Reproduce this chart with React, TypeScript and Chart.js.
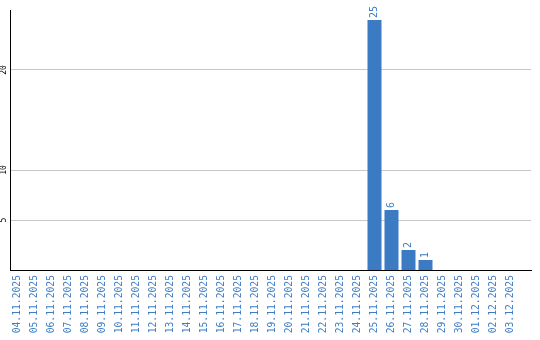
import React, { useEffect, useRef } from 'react';
import { Chart, registerables } from 'chart.js';

Chart.register(...registerables);

const dateLabels = [
  '04.11.2025', '05.11.2025', '06.11.2025', '07.11.2025', '08.11.2025', '09.11.2025',
  '10.11.2025', '11.11.2025', '12.11.2025', '13.11.2025', '14.11.2025', '15.11.2025',
  '16.11.2025', '17.11.2025', '18.11.2025', '19.11.2025', '20.11.2025', '21.11.2025',
  '22.11.2025', '23.11.2025', '24.11.2025', '25.11.2025', '26.11.2025', '27.11.2025',
  '28.11.2025', '29.11.2025', '30.11.2025', '01.12.2025', '02.12.2025', '03.12.2025',
];

const counts = [
  0, 0, 0, 0, 0, 0, 0, 0, 0, 0, 0, 0, 0, 0, 0, 0, 0, 0, 0, 0, 0,
  25, 6, 2, 1,
  0, 0, 0, 0, 0,
];

const yTickValues = [5, 10, 20];
const yMax = 26;

const BAR_BLUE = '#3a7bc4';
const TEXT_BLUE = '#3d7dc6';
const MONO = '"DejaVu Sans Mono", monospace';

const valueLabels = {
  id: 'valueLabels',
  afterDatasetsDraw(chart: any) {
    const ctx = chart.ctx;
    const meta = chart.getDatasetMeta(0);
    meta.data.forEach((bar: any, i: number) => {
      const v = counts[i];
      if (!v) return;
      ctx.save();
      ctx.translate(bar.x, bar.y - 2);
      ctx.rotate(-Math.PI / 2);
      ctx.font = `10px ${MONO}`;
      ctx.fillStyle = TEXT_BLUE;
      ctx.textAlign = 'left';
      ctx.textBaseline = 'middle';
      ctx.fillText(String(v), 0, 0);
      ctx.restore();
    });
  },
};

export default function App() {
  const ref = useRef<HTMLCanvasElement | null>(null);

  useEffect(() => {
    if (!ref.current) return;
    const chart = new Chart(ref.current, {
      type: 'bar',
      data: {
        datasets: [
          {
            data: counts.map((v, i) => ({ x: i, y: v })),
            backgroundColor: BAR_BLUE,
            borderWidth: 0,
            barPercentage: 14 / 17,
            categoryPercentage: 1,
          },
        ],
      },
      options: {
        responsive: false,
        animation: false,
        events: [],
        layout: { padding: { left: 0, top: 10, right: 9, bottom: 0 } },
        plugins: { legend: { display: false }, tooltip: { enabled: false } },
        scales: {
          x: {
            type: 'linear',
            offset: false,
            min: -0.441,
            max: 30.206,
            grid: { display: false, drawTicks: false, offset: false },
            border: { display: true, color: '#000', width: 1 },
            afterBuildTicks: (scale: any) => {
              scale.ticks = dateLabels.map((_, i) => ({ value: i }));
            },
            afterFit: (scale: any) => {
              scale.height = 70;
            },
            ticks: {
              autoSkip: false,
              minRotation: 90,
              maxRotation: 90,
              padding: 5,
              color: TEXT_BLUE,
              font: { family: MONO, size: 9.7 },
              callback: (value: any) => dateLabels[Math.round(value)] ?? '',
            },
          },
          y: {
            min: 0,
            max: yMax,
            grid: { display: true, color: '#c8c8c8', lineWidth: 1, drawTicks: false },
            border: { display: true, color: '#000', width: 1 },
            afterBuildTicks: (scale: any) => {
              scale.ticks = yTickValues.map((v) => ({ value: v }));
            },
            afterFit: (scale: any) => {
              scale.width = 10;
            },
            ticks: {
              minRotation: 90,
              maxRotation: 90,
              crossAlign: 'center',
              padding: 1,
              color: '#000',
              font: { family: MONO, size: 8 },
            },
          },
        },
      },
      plugins: [valueLabels],
    } as any);
    return () => chart.destroy();
  }, []);

  return (
    <div style={{ position: 'absolute', left: 0, top: 0, width: 540, height: 340, background: '#fff' }}>
      <canvas ref={ref} width={540} height={340} style={{ display: 'block' }} />
    </div>
  );
}
